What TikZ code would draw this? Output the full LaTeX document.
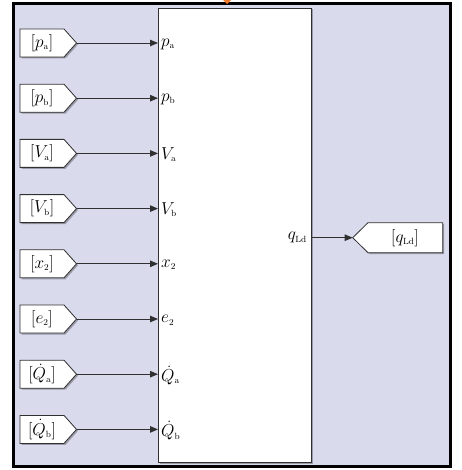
\documentclass[tikz,border=0pt]{standalone}
\usetikzlibrary{arrows.meta}
\definecolor{bgc}{HTML}{D9DAEC}
\definecolor{shc}{HTML}{9A9AA8}
\definecolor{linec}{HTML}{303030}
\definecolor{orng}{HTML}{F07828}
\newcommand\mysb[1]{_{\scriptscriptstyle\mathrm{#1}}}
\tikzset{
  lbl/.style={inner sep=0pt, font=\fontsize{19}{22}\selectfont},
  tagbox/.style={draw=linec, line width=0.8pt, fill=white},
  tagshadow/.style={fill=shc},
  sig/.style={draw=linec, line width=0.9pt, -{Triangle[length=8pt,width=6.5pt]}},
  blockst/.style={draw=linec, line width=1pt, fill=white, minimum width=153pt, minimum height=454pt, inner sep=0pt, anchor=north west}
}
\begin{document}
\begin{tikzpicture}[x=1pt,y=-1pt]
\useasboundingbox (0,0) rectangle (461,470);
\fill[white] (0,0) rectangle (461,470);
\draw[line width=3pt, fill=bgc] (13.5,3.5) rectangle (450.5,466.5);
\fill[orng] (223,0) -- (231,0) -- (227,4) -- cycle;
\fill[shc] (159.5,9.5) rectangle (312.5,463.5);
\node[blockst] (blk) at (158,8) {};
\foreach \i/\t in {0/{p\mysb{a}},1/{p\mysb{b}},2/{V\mysb{a}},3/{V\mysb{b}},4/{x\mysb{2}},5/{e\mysb{2}},6/{\dot{Q}\mysb{a}},7/{\dot{Q}\mysb{b}}}{
  \pgfmathsetmacro\yy{43+55.2*\i}
  \fill[tagshadow] (21.5,\yy-12.5) -- (65.5,\yy-12.5) -- (78,\yy+1.5) -- (65.5,\yy+15.5) -- (21.5,\yy+15.5) -- cycle;
  \draw[tagbox] (20,\yy-14) -- (64,\yy-14) -- (76.5,\yy) -- (64,\yy+14) -- (20,\yy+14) -- cycle;
  \node[lbl] (tag\i) at (42,\yy) {$[\t]$};
  \coordinate (tip\i) at (76.5,\yy);
  \coordinate (in\i) at (blk.west |- tip\i);
  \draw[sig] (tip\i) -- (in\i);
  \node[lbl, anchor=west] (lab\i) at (161,\yy+1) {$\t$};
}
\coordinate (outp) at (311,237.7);
\node[lbl, anchor=east] (qlab) at (307,237.7) {$q\mysb{Ld}$};
\fill[tagshadow] (354.2,239.2) -- (369.5,224.2) -- (444.2,224.2) -- (444.2,254.2) -- (369.5,254.2) -- cycle;
\draw[tagbox] (352.7,237.7) -- (368,222.7) -- (442.7,222.7) -- (442.7,252.7) -- (368,252.7) -- cycle;
\coordinate (otip) at (352.7,237.7);
\node[lbl] (otag) at (405,237.7) {$[q\mysb{Ld}]$};
\draw[sig] (outp) -- (otip);
\end{tikzpicture}
\end{document}
